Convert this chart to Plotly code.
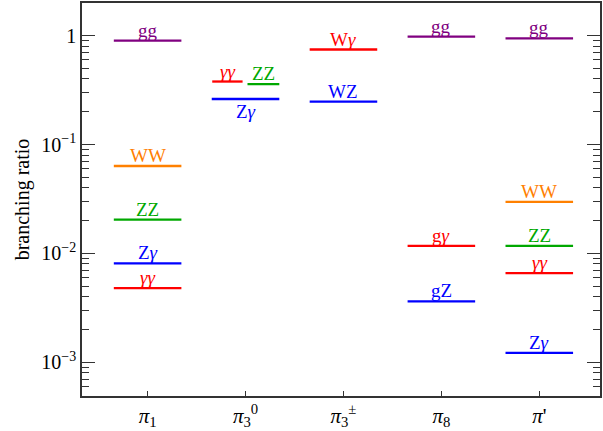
import math
import plotly.graph_objects as go

categories = ["π1", "π3⁰", "π3±", "π8", "π'"]
tick_labels = ["<i>π</i><sub>1</sub>", "<i>π</i><sub>3</sub><sup>0</sup>",
               "<i>π</i><sub>3</sub><sup>±</sup>", "<i>π</i><sub>8</sub>", "<i>π</i>'"]

pi1_channels = ["gg", "WW", "ZZ", "Zγ", "γγ"]
pi1_values = [0.90, 0.0635, 0.0204, 0.0081, 0.0048]

pi30_channels = ["γγ", "ZZ", "Zγ"]
pi30_values = [0.379, 0.359, 0.262]

pi3pm_channels = ["Wγ", "WZ"]
pi3pm_values = [0.746, 0.248]

pi8_channels = ["gg", "gγ", "gZ"]
pi8_values = [0.98, 0.0117, 0.00363]

pip_channels = ["gg", "WW", "ZZ", "γγ", "Zγ"]
pip_values = [0.946, 0.0297, 0.0117, 0.0066, 0.00122]

y_ticks = [1e-3, 1e-2, 1e-1, 1]
y_tick_text = ["10<sup>−3</sup>", "10<sup>−2</sup>", "10<sup>−1</sup>", "1"]

# styling
colors = {"gg": "#800080", "WW": "#ff8000", "ZZ": "#00a800", "Zγ": "#0000ff",
          "γγ": "#ff0000", "Wγ": "#ff0000", "WZ": "#0000ff", "gγ": "#ff0000", "gZ": "#0000ff"}
label_html = {"gg": "gg", "WW": "WW", "ZZ": "ZZ", "Zγ": "Z<i>γ</i>", "γγ": "<i>γγ</i>",
              "Wγ": "W<i>γ</i>", "WZ": "WZ", "gγ": "g<i>γ</i>", "gZ": "gZ"}
HALF = 0.345
split_extent = {("π3⁰", "γγ"): (-0.34, -0.03), ("π3⁰", "ZZ"): (0.02, 0.345)}
below_label = {("π3⁰", "Zγ")}

groups = [
    (categories[0], pi1_channels, pi1_values),
    (categories[1], pi30_channels, pi30_values),
    (categories[2], pi3pm_channels, pi3pm_values),
    (categories[3], pi8_channels, pi8_values),
    (categories[4], pip_channels, pip_values),
]

FONT = "Liberation Serif, DejaVu Serif, serif"
fig = go.Figure()
annotations = []
for i, (cat, chans, vals) in enumerate(groups):
    xc = i + 1
    for ch, v in zip(chans, vals):
        lo, hi = split_extent.get((cat, ch), (-HALF, HALF))
        fig.add_trace(go.Scatter(
            x=[xc + lo, xc + hi], y=[v, v], mode="lines",
            line=dict(color=colors[ch], width=2.3), showlegend=False, hoverinfo="skip"))
        below = (cat, ch) in below_label
        annotations.append(dict(
            x=xc + (lo + hi) / 2, y=math.log10(v), xref="x", yref="y",
            text=label_html[ch], showarrow=False,
            yanchor="top" if below else "bottom",
            yshift=0 if below else -2,
            font=dict(family=FONT, size=19, color=colors[ch])))

minor_vals = [m * 10 ** e for e in range(-4, 1) for m in range(2, 10)]

fig.update_layout(
    width=603, height=431,
    margin=dict(l=82, r=1, t=2, b=33),
    paper_bgcolor="white", plot_bgcolor="white",
    annotations=annotations,
    font=dict(family=FONT, size=17, color="black"),
    xaxis=dict(
        range=[0.33, 5.62], tickmode="array", tickvals=[1, 2, 3, 4, 5], ticktext=tick_labels,
        ticks="inside", ticklen=5, tickwidth=1.2, tickcolor="#333",
        showline=True, linecolor="#333", linewidth=1.5, mirror=True,
        showgrid=False, zeroline=False, tickfont=dict(family=FONT, size=21)),
    yaxis=dict(
        type="log", range=[-3.31, 0.30],
        tickmode="array", tickvals=y_ticks, ticktext=y_tick_text,
        ticks="inside", ticklen=13, tickwidth=1.2, tickcolor="#333",
        minor=dict(tickmode="array", tickvals=minor_vals, ticks="inside", ticklen=7,
                   tickwidth=1.0, tickcolor="#333", showgrid=False),
        showline=True, linecolor="#333", linewidth=1.5, mirror="allticks",
        showgrid=False, zeroline=False, tickfont=dict(family=FONT, size=20),
        title=dict(text="branching ratio", font=dict(family=FONT, size=20), standoff=6)),
)

fig.write_html("out.html", config={"displayModeBar": False},
               post_script="document.body.style.margin='0';document.body.style.overflow='hidden';")
